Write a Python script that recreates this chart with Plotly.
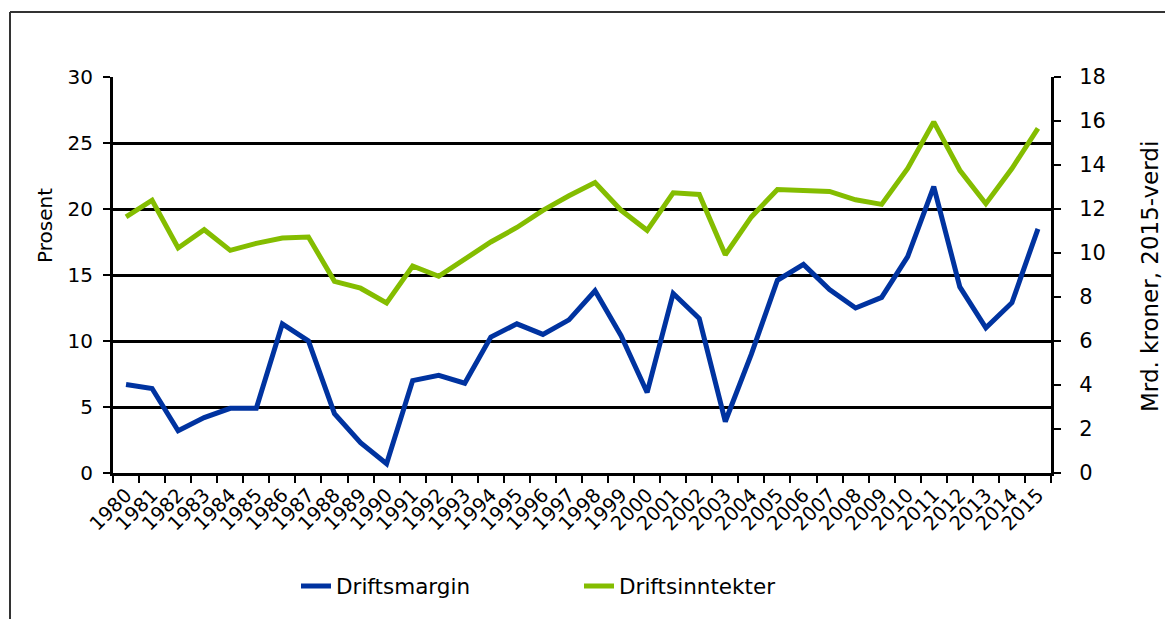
import plotly.graph_objects as go

years = [str(y) for y in range(1980, 2016)]
driftsmargin = [6.7, 6.4, 3.2, 4.2, 4.9, 4.9, 11.3, 10.0, 4.5, 2.3, 0.7, 7.0, 7.4, 6.8,
                10.3, 11.3, 10.5, 11.6, 13.8, 10.4, 6.1, 13.6, 11.7, 3.9, 9.0, 14.6,
                15.8, 13.9, 12.5, 13.3, 16.4, 21.7, 14.1, 11.0, 12.9, 18.5]
driftsinntekter = [11.64, 12.4, 10.23, 11.06, 10.12, 10.44, 10.68, 10.73, 8.71, 8.4,
                   7.73, 9.41, 8.94, 9.72, 10.5, 11.16, 11.94, 12.6, 13.2, 11.94, 11.03,
                   12.74, 12.66, 9.92, 11.64, 12.89, 12.84, 12.8, 12.42, 12.21, 13.84,
                   15.96, 13.76, 12.24, 13.84, 15.66]

FONT = "DejaVu Sans"
L, R, T, B = 113, 1051, 77, 473
PW, PH = R - L, B - T

def px(x):
    return (x - L) / PW

def py(y):
    return (B - y) / PH

fig = go.Figure()
fig.add_trace(go.Scatter(x=years, y=driftsmargin, name="Driftsmargin", mode="lines",
                         line=dict(color="#0033A0", width=5), yaxis="y"))
fig.add_trace(go.Scatter(x=years, y=driftsinntekter, name="Driftsinntekter", mode="lines",
                         line=dict(color="#84BD00", width=5), yaxis="y2"))

fig.update_layout(
    width=1165, height=619,
    margin=dict(l=L, r=1165 - R, t=T, b=619 - B),
    paper_bgcolor="white", plot_bgcolor="white",
    font=dict(family=FONT, size=20, color="black"),
    showlegend=True,
    legend=dict(orientation="h", x=px(296), xanchor="left", y=py(586), yanchor="middle",
                font=dict(size=21.5), entrywidth=238, entrywidthmode="pixels",
                bgcolor="rgba(0,0,0,0)"),
    xaxis=dict(type="category", tickson="boundaries", ticks="outside", ticklen=7,
               tickwidth=2, tickcolor="black", showline=True, linecolor="black",
               linewidth=3, tickangle=-45, showgrid=False,
               tickfont=dict(size=19.5), range=[-0.5, 35.5]),
    yaxis=dict(range=[0, 30], dtick=5, ticks="outside", ticklen=7, tickwidth=2,
               tickcolor="black", showline=True, linecolor="black", linewidth=3,
               showgrid=True, gridcolor="black", gridwidth=2.5, zeroline=False,
               tickfont=dict(size=20), ticklabelstandoff=6),
    yaxis2=dict(range=[0, 18], dtick=2, overlaying="y", side="right", ticks="outside",
                ticklen=7, tickwidth=2, tickcolor="black", showline=True,
                linecolor="black", linewidth=3, showgrid=False, zeroline=False,
                tickfont=dict(size=21), ticklabelstandoff=14),
    yaxis3=dict(range=[0, 18], dtick=2, overlaying="y", side="right", anchor="x",
                ticks="inside", ticklen=7, tickwidth=2, tickcolor="black",
                showline=False, showgrid=False, zeroline=False, showticklabels=False),
    annotations=[
        dict(text="Prosent", xref="paper", yref="paper", x=px(45), y=py(226),
             showarrow=False, textangle=-90, font=dict(size=20),
             xanchor="center", yanchor="middle"),
        dict(text="Mrd. kroner, 2015-verdi", xref="paper", yref="paper", x=px(1150),
             y=py(277), showarrow=False, textangle=-90, font=dict(size=23),
             xanchor="center", yanchor="middle"),
    ],
)

# outer frame (top and left edges visible)
fig.add_shape(type="line", xref="paper", yref="paper",
              x0=px(10), x1=px(1200), y0=py(12), y1=py(12),
              line=dict(color="#333333", width=2))
fig.add_shape(type="line", xref="paper", yref="paper",
              x0=px(10), x1=px(10), y0=py(12), y1=py(700),
              line=dict(color="#333333", width=2))

fig.write_html("out.html", config={"displayModeBar": False},
               post_script="document.body.style.margin='0';")
